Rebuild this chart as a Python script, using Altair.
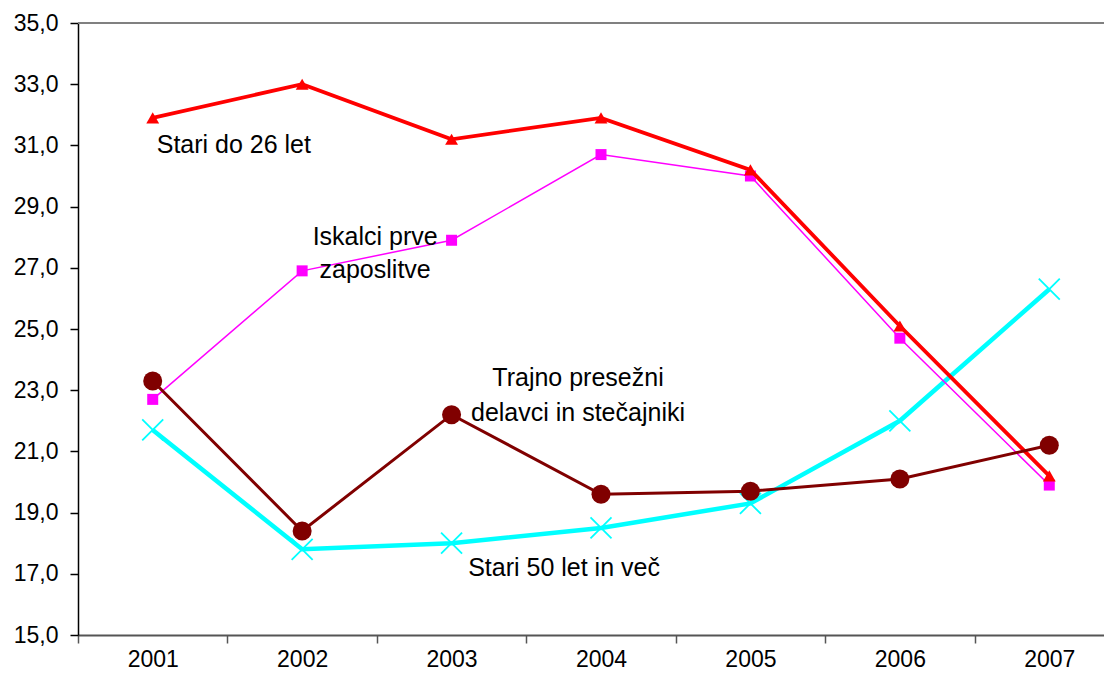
import altair as alt
import pandas as pd

# ---- data ----
years = [2001, 2002, 2003, 2004, 2005, 2006, 2007]
stari_do_26 = [31.9, 33.0, 31.2, 31.9, 30.2, 25.1, 20.2]
iskalci = [22.7, 26.9, 27.9, 30.7, 30.0, 24.7, 19.9]
trajno = [23.3, 18.4, 22.2, 19.6, 19.7, 20.1, 21.2]
stari_50 = [21.7, 17.8, 18.0, 18.5, 19.3, 22.0, 26.3]
y_ticks = [15, 17, 19, 21, 23, 25, 27, 29, 31, 33, 35]

FONT = "Liberation Sans"
PLOT_W = 1026
# the reference's plot area runs past the right edge of the picture
X_RANGE = [0, 1046]

x_enc = alt.X(
    "year:O",
    scale=alt.Scale(type="band", paddingInner=0, paddingOuter=0, range=X_RANGE),
    axis=alt.Axis(
        title=None, labelAngle=0, tickBand="extent", tickSize=8,
        labelPadding=5, labelFontSize=23, labelFont=FONT, labelColor="black",
        domainColor="#555555", domainWidth=2, tickColor="#555555", tickWidth=1.5,
        grid=False,
    ),
)
y_scale = alt.Scale(domain=[15, 35], nice=False, zero=False)
y_axis = alt.Axis(
    title=None, values=y_ticks,
    labelExpr="replace(format(datum.value, '.1f'), '.', ',')",
    tickSize=8, labelPadding=12, labelFontSize=23, labelFont=FONT,
    labelColor="black", domainColor="black", domainWidth=1.5,
    tickColor="black", tickWidth=1.5, grid=False,
)


def series_layers(values, color, width, shape, size, filled, pstroke=1):
    df = pd.DataFrame({"year": years, "value": values})
    base = alt.Chart(df).encode(
        x=x_enc, y=alt.Y("value:Q", scale=y_scale, axis=y_axis)
    )
    line = base.mark_line(color=color, strokeWidth=width)
    if filled:
        pts = base.mark_point(shape=shape, size=size, filled=True, color=color, opacity=1)
    else:
        pts = base.mark_point(shape=shape, size=size, filled=False, color=color,
                              strokeWidth=pstroke, opacity=1)
    return [line, pts]


layers = []
# top border of the plot area
layers.append(
    alt.Chart(pd.DataFrame({"v": [35]})).mark_rule(color="#808080", strokeWidth=2)
    .encode(y=alt.Y("v:Q", scale=y_scale, axis=y_axis))
)
layers += series_layers(stari_50, "#00FFFF", 4.5, "M-1,-1L1,1M-1,1L1,-1", 441, False, pstroke=1.8)
layers += series_layers(iskalci, "#FF00FF", 1.5, "square", 121, True)
layers += series_layers(stari_do_26, "#FF0000", 3.8, "triangle-up", 165, True)
layers += series_layers(trajno, "#800000", 3, "circle", 361, True)

# annotations (series names written on the plot)
annotations = [
    {"text": "Stari do 26 let", "year": 2001, "value": 30.75, "align": "left", "dx": 4},
    {"text": "Iskalci prve", "year": 2002, "value": 27.75, "align": "center", "dx": 73},
    {"text": "zaposlitve", "year": 2002, "value": 26.67, "align": "center", "dx": 73},
    {"text": "Trajno presežni", "year": 2004, "value": 23.15, "align": "center", "dx": -23},
    {"text": "delavci in stečajniki", "year": 2004, "value": 22.0, "align": "center", "dx": -23},
    {"text": "Stari 50 let in več", "year": 2004, "value": 16.94, "align": "center", "dx": -37},
]
for a in annotations:
    adf = pd.DataFrame({"year": [a["year"]], "value": [a["value"]], "label": [a["text"]]})
    layers.append(
        alt.Chart(adf).mark_text(
            align=a["align"], baseline="alphabetic", dx=a["dx"], fontSize=25,
            font=FONT, color="black",
        ).encode(x=x_enc, y=alt.Y("value:Q", scale=y_scale, axis=y_axis), text="label:N")
    )

chart = alt.layer(*layers).properties(
    width=PLOT_W, height=612,
    autosize=alt.AutoSizeParams(type="none"),
    padding={"left": 70, "top": 15, "right": 0, "bottom": 35},
).configure_view(stroke=None).configure(background="white")

chart.save("out.html", embed_options={"renderer": "svg", "actions": False})
